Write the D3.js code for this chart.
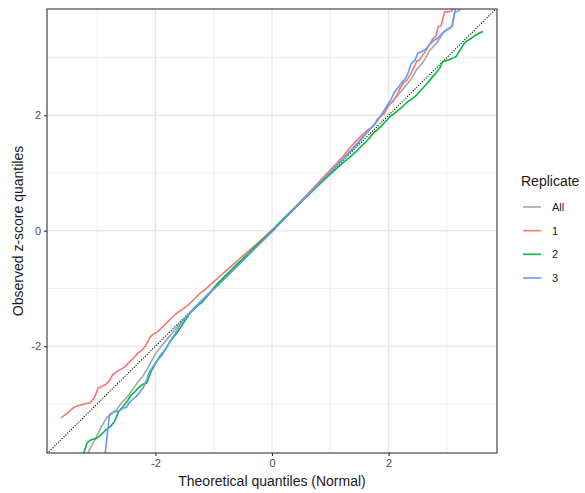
<!DOCTYPE html>
<html>
<head>
<meta charset="utf-8">
<script src="https://cdn.jsdelivr.net/npm/d3@7"></script>
<style>
  html, body { margin: 0; padding: 0; background: #fff; }
  svg { display: block; font-family: "Liberation Sans", Arial, sans-serif; }
</style>
</head>
<body>
<svg id="chart" width="585" height="493"></svg>
<script>
// Q-Q plot of observed z-scores against theoretical normal quantiles

const seriesNames = ["All", "1", "2", "3"];
const seriesColors = ["#a6a6a6", "#F8766D", "#00BA38", "#619CFF"];

const xTicks = [-2, 0, 2];
const yTicks = [-2, 0, 2];
const minorTicks = [-3, -1, 1, 3];

// Pooled replicates
const allTheo = [-3.30,-3.16,-3.08,-3.01,-2.93,-2.84,-2.76,-2.67,-2.58,-2.50,-2.39,-2.30,-2.22,-2.16,-2.08,-1.99,-1.90,-1.76,-1.60,-1.45,-1.20,-0.90,-0.60,-0.30,0.00,0.30,0.60,0.90,1.20,1.40,1.60,1.75,1.90,2.05,2.20,2.30,2.40,2.48,2.56,2.63,2.71,2.80,2.88,2.95,3.02,3.08,3.13,3.22,3.28];
const allObs  = [-4.05,-3.85,-3.70,-3.56,-3.40,-3.24,-3.18,-3.10,-2.98,-2.90,-2.75,-2.62,-2.52,-2.43,-2.28,-2.12,-2.00,-1.83,-1.63,-1.46,-1.20,-0.90,-0.60,-0.30,0.00,0.31,0.61,0.92,1.23,1.45,1.67,1.84,2.03,2.22,2.40,2.52,2.64,2.79,2.88,2.98,3.13,3.22,3.33,3.45,3.50,3.53,3.77,3.82,3.95];

// Replicate 1
const rep1Theo = [-3.62,-3.50,-3.40,-3.33,-3.22,-3.12,-3.05,-2.98,-2.92,-2.85,-2.79,-2.73,-2.66,-2.59,-2.52,-2.45,-2.37,-2.30,-2.22,-2.15,-2.09,-2.02,-1.95,-1.87,-1.79,-1.70,-1.62,-1.52,-1.43,-1.35,-1.25,-1.15,-1.05,-0.95,-0.82,-0.68,-0.55,-0.40,-0.25,-0.10,0.05,0.20,0.35,0.50,0.65,0.80,0.95,1.10,1.22,1.34,1.45,1.55,1.65,1.73,1.80,1.87,1.94,1.99,2.06,2.13,2.19,2.25,2.31,2.37,2.43,2.48,2.53,2.59,2.64,2.70,2.76,2.81,2.85,2.90,2.96,3.02,3.08,3.13,3.20];
const rep1Obs  = [-3.24,-3.15,-3.06,-3.03,-3.00,-2.98,-2.90,-2.72,-2.70,-2.66,-2.60,-2.49,-2.44,-2.40,-2.35,-2.28,-2.20,-2.12,-2.06,-1.96,-1.84,-1.78,-1.74,-1.66,-1.58,-1.49,-1.42,-1.35,-1.28,-1.20,-1.10,-1.02,-0.93,-0.84,-0.72,-0.60,-0.48,-0.35,-0.22,-0.08,0.06,0.21,0.36,0.52,0.68,0.84,1.00,1.16,1.29,1.44,1.56,1.66,1.75,1.80,1.92,1.98,2.05,2.18,2.22,2.32,2.45,2.56,2.60,2.70,2.82,2.93,2.96,3.05,3.12,3.22,3.33,3.36,3.53,3.55,3.79,3.79,3.80,3.90,4.05];

// Replicate 2
const rep2Theo = [-3.30,-3.23,-3.17,-3.10,-3.00,-2.92,-2.85,-2.77,-2.70,-2.63,-2.56,-2.48,-2.42,-2.37,-2.30,-2.22,-2.15,-2.08,-2.00,-1.92,-1.84,-1.75,-1.63,-1.52,-1.40,-1.30,-1.20,-1.08,-0.95,-0.82,-0.68,-0.55,-0.40,-0.25,-0.10,0.05,0.20,0.35,0.50,0.65,0.80,0.95,1.10,1.22,1.34,1.45,1.55,1.65,1.73,1.82,1.92,2.02,2.13,2.22,2.31,2.40,2.48,2.57,2.66,2.75,2.82,2.88,2.93,3.00,3.08,3.16,3.22,3.28,3.33,3.40,3.48,3.55,3.62];
const rep2Obs  = [-3.98,-3.85,-3.67,-3.62,-3.59,-3.52,-3.45,-3.39,-3.30,-3.13,-3.05,-2.95,-2.85,-2.81,-2.73,-2.66,-2.64,-2.45,-2.30,-2.17,-2.07,-1.92,-1.77,-1.60,-1.42,-1.32,-1.24,-1.10,-0.93,-0.80,-0.66,-0.53,-0.39,-0.24,-0.10,0.05,0.21,0.35,0.50,0.64,0.79,0.93,1.07,1.18,1.28,1.38,1.48,1.58,1.68,1.76,1.86,1.97,2.06,2.13,2.22,2.28,2.35,2.45,2.55,2.66,2.74,2.82,2.93,2.95,2.98,3.02,3.12,3.22,3.28,3.32,3.38,3.42,3.45];

// Replicate 3
const rep3Theo = [-2.88,-2.86,-2.83,-2.81,-2.79,-2.74,-2.67,-2.60,-2.55,-2.50,-2.45,-2.40,-2.33,-2.27,-2.21,-2.15,-2.10,-2.04,-1.97,-1.90,-1.82,-1.74,-1.67,-1.58,-1.45,-1.32,-1.20,-1.08,-0.95,-0.82,-0.68,-0.55,-0.40,-0.25,-0.10,0.05,0.20,0.35,0.50,0.65,0.80,0.95,1.10,1.22,1.34,1.45,1.55,1.63,1.73,1.82,1.90,1.97,2.04,2.10,2.16,2.22,2.28,2.33,2.39,2.45,2.50,2.56,2.63,2.70,2.78,2.84,2.92,2.99,3.05,3.10,3.14,3.18];
const rep3Obs  = [-4.05,-3.85,-3.55,-3.41,-3.18,-3.15,-3.13,-3.11,-3.07,-3.06,-2.98,-2.93,-2.87,-2.80,-2.72,-2.58,-2.44,-2.35,-2.25,-2.17,-2.05,-1.90,-1.80,-1.63,-1.47,-1.33,-1.21,-1.09,-0.97,-0.84,-0.70,-0.57,-0.42,-0.27,-0.12,0.03,0.19,0.34,0.50,0.65,0.81,0.96,1.12,1.24,1.36,1.48,1.60,1.70,1.80,1.92,2.05,2.16,2.27,2.40,2.47,2.56,2.62,2.72,2.90,2.95,3.07,3.10,3.14,3.22,3.30,3.33,3.42,3.47,3.50,3.56,3.82,3.95];

const theoSets = [allTheo, rep1Theo, rep2Theo, rep3Theo];
const obsSets  = [allObs, rep1Obs, rep2Obs, rep3Obs];

const svg = d3.select("#chart");
const panel = { left: 47, right: 497, top: 9, bottom: 453 };

const x = d3.scaleLinear().domain([-3.86, 3.86]).range([panel.left, panel.right]);
const y = d3.scaleLinear().domain([-3.85, 3.84]).range([panel.bottom, panel.top]);

svg.append("defs").append("clipPath").attr("id", "panel-clip")
  .append("rect")
  .attr("x", panel.left).attr("y", panel.top)
  .attr("width", panel.right - panel.left).attr("height", panel.bottom - panel.top);

// panel background
svg.append("rect")
  .attr("x", panel.left).attr("y", panel.top)
  .attr("width", panel.right - panel.left).attr("height", panel.bottom - panel.top)
  .attr("fill", "#fff");

const grid = svg.append("g");
// minor grid
grid.selectAll("line.vminor").data(minorTicks).join("line")
  .attr("x1", d => x(d)).attr("x2", d => x(d))
  .attr("y1", panel.top).attr("y2", panel.bottom)
  .attr("stroke", "#ebebeb").attr("stroke-width", 0.8);
grid.selectAll("line.hminor").data(minorTicks).join("line")
  .attr("y1", d => y(d)).attr("y2", d => y(d))
  .attr("x1", panel.left).attr("x2", panel.right)
  .attr("stroke", "#ebebeb").attr("stroke-width", 0.8);
// major grid
grid.selectAll("line.vmajor").data(xTicks).join("line")
  .attr("x1", d => x(d)).attr("x2", d => x(d))
  .attr("y1", panel.top).attr("y2", panel.bottom)
  .attr("stroke", "#e8e8e8").attr("stroke-width", 1.5);
grid.selectAll("line.hmajor").data(yTicks).join("line")
  .attr("y1", d => y(d)).attr("y2", d => y(d))
  .attr("x1", panel.left).attr("x2", panel.right)
  .attr("stroke", "#e8e8e8").attr("stroke-width", 1.5);

const plot = svg.append("g").attr("clip-path", "url(#panel-clip)");

// reference line y = x
plot.append("line")
  .attr("x1", x(-3.86)).attr("y1", y(-3.86))
  .attr("x2", x(3.86)).attr("y2", y(3.86))
  .attr("stroke", "#1a1a1a").attr("stroke-width", 1.1)
  .attr("stroke-dasharray", "1.2,1.4");

const line = d3.line().x(d => x(d[0])).y(d => y(d[1]));

seriesNames.forEach((name, i) => {
  const pts = theoSets[i].map((t, j) => [t, obsSets[i][j]]);
  plot.append("path")
    .datum(pts)
    .attr("d", line)
    .attr("fill", "none")
    .attr("stroke", seriesColors[i])
    .attr("stroke-width", 1.6)
    .attr("stroke-linejoin", "round");
});

// panel border
svg.append("rect")
  .attr("x", panel.left).attr("y", panel.top)
  .attr("width", panel.right - panel.left).attr("height", panel.bottom - panel.top)
  .attr("fill", "none").attr("stroke", "#333333").attr("stroke-width", 1.1);

// axes
const xAxis = d3.axisBottom(x).tickValues(xTicks).tickSize(3).tickPadding(3).tickFormat(d3.format("d"));
const yAxis = d3.axisLeft(y).tickValues(yTicks).tickSize(3).tickPadding(3).tickFormat(d3.format("d"));

const gx = svg.append("g").attr("transform", `translate(0,${panel.bottom})`).call(xAxis);
const gy = svg.append("g").attr("transform", `translate(${panel.left},0)`).call(yAxis);
[gx, gy].forEach(g => {
  g.select(".domain").remove();
  g.selectAll(".tick line").attr("stroke", "#333333").attr("stroke-width", 1.1);
  g.selectAll(".tick text")
    .attr("fill", "#4d4d4d")
    .style("font-size", "11px")
    .style("font-family", "'Liberation Sans', Arial, sans-serif");
});
gx.selectAll(".tick text").text(d => d < 0 ? "-" + Math.abs(d) : d);
gy.selectAll(".tick text").text(d => d < 0 ? "-" + Math.abs(d) : d);

// axis titles
svg.append("text")
  .attr("x", (panel.left + panel.right) / 2).attr("y", 486)
  .attr("text-anchor", "middle")
  .attr("fill", "#1a1a1a")
  .style("font-size", "14px")
  .text("Theoretical quantiles (Normal)");

svg.append("text")
  .attr("transform", `translate(23,${(panel.top + panel.bottom) / 2}) rotate(-90)`)
  .attr("text-anchor", "middle")
  .attr("fill", "#1a1a1a")
  .style("font-size", "14px")
  .text("Observed z-score quantiles");

// legend
const legend = svg.append("g");
legend.append("text")
  .attr("x", 521).attr("y", 186)
  .attr("fill", "#1a1a1a")
  .style("font-size", "14px")
  .text("Replicate");

const legendY = d3.scalePoint().domain(seriesNames).range([207, 278]);
seriesNames.forEach((name, i) => {
  const cy = legendY(name);
  legend.append("line")
    .attr("x1", 523).attr("x2", 541)
    .attr("y1", cy).attr("y2", cy)
    .attr("stroke", seriesColors[i]).attr("stroke-width", 1.6);
  legend.append("text")
    .attr("x", 552).attr("y", cy)
    .attr("dy", "0.35em")
    .attr("fill", "#1a1a1a")
    .style("font-size", "11px")
    .text(name);
});
</script>
</body>
</html>
